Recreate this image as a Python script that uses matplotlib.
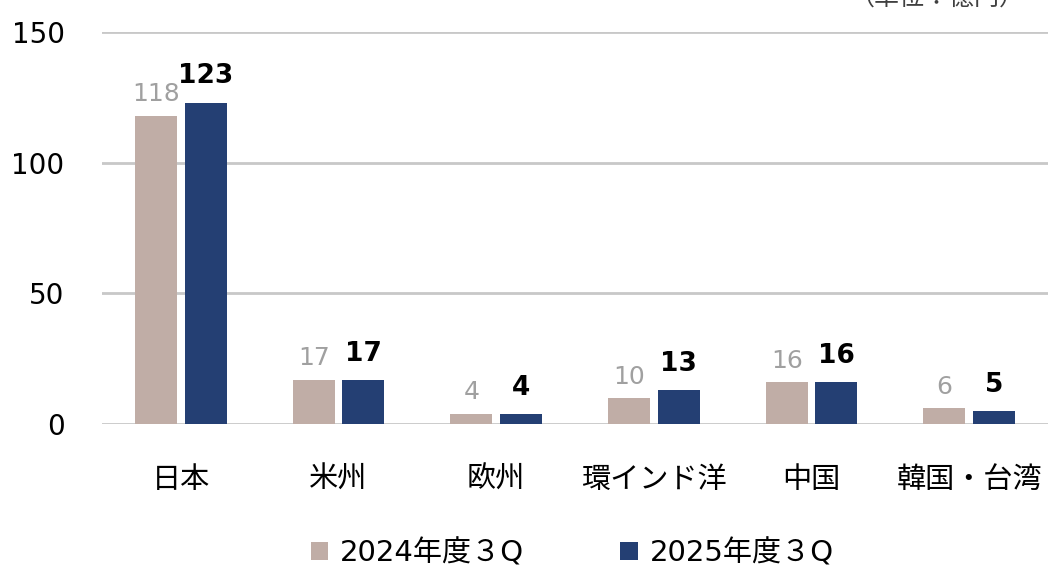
import numpy as np
import matplotlib.pyplot as plt

plt.rcParams['font.family'] = ['DejaVu Sans', 'Noto Sans CJK JP']

categories = ['日本', '米州', '欧州', '環インド洋', '中国', '韓国・台湾']
values_2024 = [118, 17, 4, 10, 16, 6]
values_2025 = [123, 17, 4, 13, 16, 5]
series_names = ['2024年度３Q', '2025年度３Q']
colors = ['#C0ADA6', '#243F73']

fig = plt.figure(figsize=(10.54, 5.7), dpi=100)
ax = fig.add_axes([0.0968, 0.256, 0.8975, 0.688])

x = np.arange(len(categories))
w = 0.266
b1 = ax.bar(x - 0.157, values_2024, w, color=colors[0], label=series_names[0], zorder=3)
b2 = ax.bar(x + 0.157, values_2025, w, color=colors[1], label=series_names[1], zorder=3)

for rect, v in zip(b1, values_2024):
    ax.text(rect.get_x() + rect.get_width() / 2, v + 3.5, str(v), ha='center', va='bottom',
            fontsize=18, color='#A0A0A0')
for rect, v in zip(b2, values_2025):
    ax.text(rect.get_x() + rect.get_width() / 2, v + 5, str(v), ha='center', va='bottom',
            fontsize=19, color='black', fontweight='bold')

ax.set_xlim(-0.5, len(categories) - 0.5)
ax.set_ylim(0, 150)
ax.set_yticks([0, 50, 100, 150])
ax.yaxis.grid(True, color='#C8C8C8', linewidth=2, zorder=0)
ax.tick_params(axis='y', length=0, labelsize=20, pad=27)
ax.tick_params(axis='x', length=0, labelsize=21, pad=30)
ax.set_xticks(x)
ax.set_xticklabels(categories)
for s in ax.spines.values():
    s.set_visible(False)

fig.legend(loc='center', bbox_to_anchor=(0.543, 0.03), ncol=2, frameon=False,
           fontsize=21, handlelength=0.6, handleheight=0.6, handletextpad=0.4,
           columnspacing=3.3, borderpad=0)

fig.text(0.972, 1.005, '（単位：億円）', ha='right', va='center', fontsize=18, color='#404040')

fig.savefig('out.png', dpi=100)
